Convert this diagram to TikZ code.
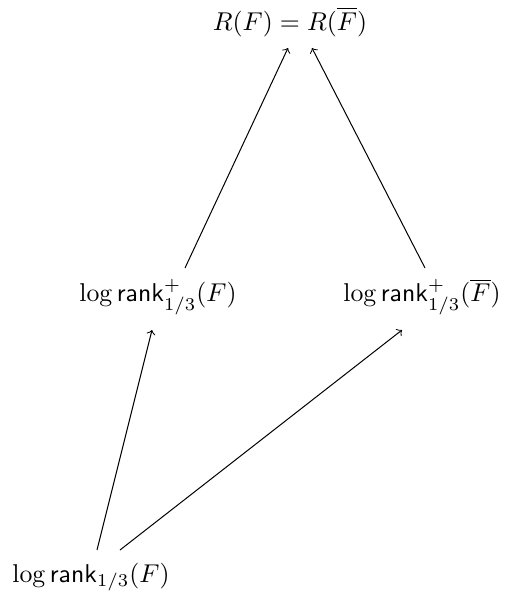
\documentclass[tikz,border=0pt]{standalone}
\usepackage{amsmath}
\begin{document}
\begin{tikzpicture}[x=0.4pt,y=-0.4pt,
  lbl/.style={inner sep=0pt,scale=1.03},
  arr/.style={->}]
\useasboundingbox (0,0) rectangle (520,593);
\node[lbl] (top) at (290,22) {$R(F) = R(\overline{F})$};
\node[lbl] (midL) at (158,297) {$\log\mathsf{rank}^+_{1/3}(F)$};
\node[lbl] (midR) at (422,297) {$\log\mathsf{rank}^+_{1/3}(\overline{F})$};
\node[lbl] (bot) at (91,577) {$\log\mathsf{rank}_{1/3}(F)$};
\draw[arr] ([shift={(27,-29)}]midL.center) -- ([shift={(-2,26)}]top.center);
\draw[arr] ([shift={(3,-29)}]midR.center) -- ([shift={(22,26)}]top.center);
\draw[arr] ([shift={(6,-27)}]bot.center) -- ([shift={(-6,33)}]midL.center);
\draw[arr] ([shift={(29,-27)}]bot.center) -- ([shift={(-20,33)}]midR.center);
\end{tikzpicture}
\end{document}
